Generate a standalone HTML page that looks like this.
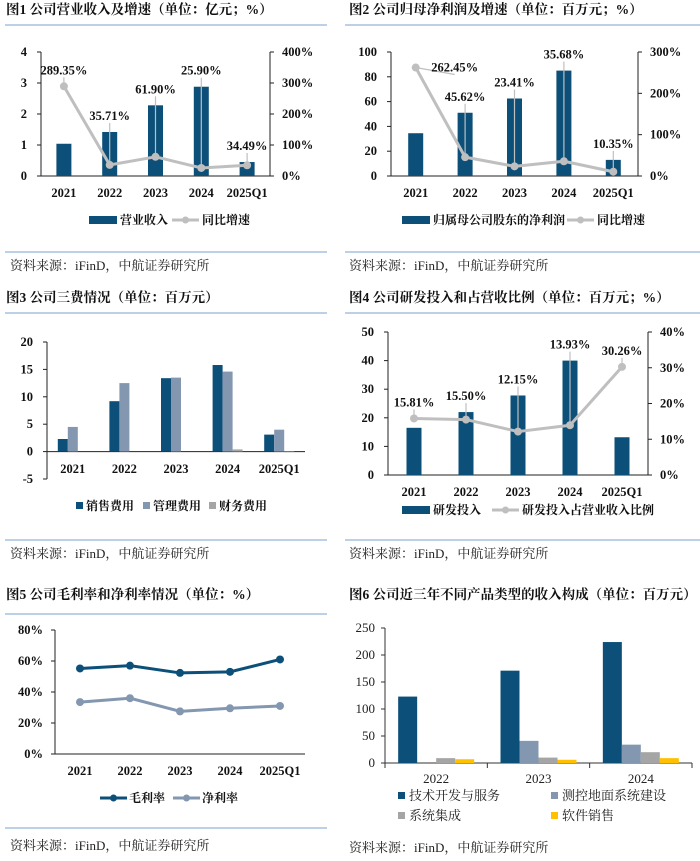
<!DOCTYPE html>
<html><head><meta charset="utf-8">
<style>
html,body{margin:0;padding:0;background:#fff;}
svg{display:block;font-family:"Liberation Serif","Noto Serif CJK SC",serif;}
.t{font-size:13.5px;font-weight:bold;fill:#111;}
.s{font-size:13px;fill:#222;}
.k{font-size:12.5px;font-weight:bold;fill:#111;}
.l{font-size:12.5px;font-weight:bold;fill:#111;}
.lg{font-size:12px;fill:#111;font-weight:bold;}
</style></head>
<body>
<svg id="root" width="700" height="861" viewBox="0 0 700 861">
<g>
<text class="t" x="6" y="14">图1 公司营业收入及增速（单位：亿元；%）</text>
<line x1="5" y1="25" x2="327" y2="25" stroke="#95b3d7" stroke-width="1.2"/>
<line x1="5" y1="252" x2="327" y2="252" stroke="#95b3d7" stroke-width="1.2"/>
<text class="s" x="10" y="270">资料来源：iFinD，中航证券研究所</text>

<text class="t" x="349" y="14">图2 公司归母净利润及增速（单位：百万元；%）</text>
<line x1="345" y1="25" x2="700" y2="25" stroke="#95b3d7" stroke-width="1.2"/>
<line x1="345" y1="252" x2="700" y2="252" stroke="#95b3d7" stroke-width="1.2"/>
<text class="s" x="349" y="270">资料来源：iFinD，中航证券研究所</text>

<text class="t" x="6" y="302">图3 公司三费情况（单位：百万元）</text>
<line x1="5" y1="313" x2="327" y2="313" stroke="#95b3d7" stroke-width="1.2"/>
<line x1="5" y1="540" x2="327" y2="540" stroke="#95b3d7" stroke-width="1.2"/>
<text class="s" x="10" y="558">资料来源：iFinD，中航证券研究所</text>

<text class="t" x="349" y="302">图4 公司研发投入和占营收比例（单位：百万元；%）</text>
<line x1="345" y1="313" x2="700" y2="313" stroke="#95b3d7" stroke-width="1.2"/>
<line x1="345" y1="540" x2="700" y2="540" stroke="#95b3d7" stroke-width="1.2"/>
<text class="s" x="349" y="558">资料来源：iFinD，中航证券研究所</text>

<text class="t" x="6" y="599">图5 公司毛利率和净利率情况（单位：%）</text>
<line x1="5" y1="614" x2="327" y2="614" stroke="#95b3d7" stroke-width="1.2"/>
<line x1="5" y1="828" x2="327" y2="828" stroke="#95b3d7" stroke-width="1.2"/>
<text class="s" x="10" y="850">资料来源：iFinD，中航证券研究所</text>

<text class="t" x="349" y="599">图6 公司近三年不同产品类型的收入构成（单位：百万元）</text>
<text class="s" x="349" y="852">资料来源：iFinD，中航证券研究所</text>
</g>
<g id="charts"></g>
</svg>
<script>
// ---------- data ----------
const cats5 = ['2021','2022','2023','2024','2025Q1'];
const revenue = [1.04, 1.42, 2.28, 2.88, 0.45];
const revenueGrowth = [289.35, 35.71, 61.90, 25.90, 34.49];
const revLeftTicks = [0,1,2,3,4];
const revRightTicks = [0,100,200,300,400];

const netProfit = [34.5, 51, 62.5, 85, 13];
const profitGrowth = [262.45, 45.62, 23.41, 35.68, 10.35];
const npLeftTicks = [0,20,40,60,80,100];
const npRightTicks = [0,100,200,300];

const salesExp = [2.3, 9.2, 13.4, 15.8, 3.1];
const mgmtExp = [4.5, 12.5, 13.5, 14.6, 4.0];
const finExp = [0, 0, 0, 0.4, -0.1];
const expTicks = [-5,0,5,10,15,20];

const rdSpend = [16.5, 22, 27.8, 40, 13.2];
const rdRatio = [15.81, 15.50, 12.15, 13.93, 30.26];
const rdLeftTicks = [0,10,20,30,40,50];
const rdRightTicks = [0,10,20,30,40];

const grossMargin = [55.2, 57, 52.3, 53, 61];
const netMargin = [33.5, 36, 27.5, 29.5, 31];
const marginTicks = [0,20,40,60,80];

const cats3 = ['2022','2023','2024'];
const techService = [123, 171, 224];
const groundSys = [0, 41, 34];
const sysIntegration = [9, 10, 20];
const softwareSales = [7, 6, 9];
const segTicks = [0,50,100,150,200,250];

// ---------- helpers ----------
const NS = 'http://www.w3.org/2000/svg';
const root = document.getElementById('charts');
function mk(tag, attrs, parent) {
  const e = document.createElementNS(NS, tag);
  for (const k in attrs) e.setAttribute(k, attrs[k]);
  (parent || root).appendChild(e);
  return e;
}
function txt(str, attrs, parent) {
  const e = mk('text', attrs, parent);
  e.textContent = str;
  return e;
}
const BLUE = '#0c5079', GREY = '#bfbfbf', SLATE = '#8497b0', MID = '#a5a5a5', GOLD = '#ffc000';

// ---------- combo chart (bars + line, dual axis) ----------
function combo(o) {
  const g = mk('g', {});
  
  
  const yL = v => o.yb - (v - 0) / o.lmax * (o.yb - o.yt);
  const yR = v => o.yb - v / o.rmax * (o.yb - o.yt);
  const bw = (o.x1 - o.x0) / o.cats.length;
  const xc = i => o.x0 + bw * (i + 0.5);
  const ax = mk('path', {d:`M${o.x0},${o.yt} V${o.yb} H${o.x1} V${o.yt}`, fill:'none', stroke:'#222', 'stroke-width':1}, g);
  
  
  o.lt.forEach(v => {
    mk('line', {x1:o.x0-4, x2:o.x0, y1:yL(v), y2:yL(v), stroke:'#222'}, g);
    const t = txt(String(v), {x:o.x0-14, y:yL(v)+4, 'text-anchor':'end', class:'k'}, g);
    
    
  });
  o.rt.forEach(v => {
    mk('line', {x1:o.x1, x2:o.x1+4, y1:yR(v), y2:yR(v), stroke:'#222'}, g);
    const t = txt(v + '%', {x:o.x1+12, y:yR(v)+4, class:'k'}, g);
    
    
  });
  o.cats.forEach((c, i) => {
    const t = txt(c, {x:xc(i), y:o.xl, 'text-anchor':'middle', class:'k'}, g);
    
    
  });
  o.bars.forEach((v, i) => {
    const r = mk('rect', {x:xc(i)-7.5, y:yL(v), width:15, height:o.yb-yL(v), fill:BLUE}, g);
    
    
  });
  const pts = o.line.map((v, i) => xc(i) + ',' + yR(v)).join(' ');
  const pl = mk('polyline', {points:pts, fill:'none', stroke:GREY, 'stroke-width':3, 'stroke-linejoin':'round'}, g);
  
  
  o.line.forEach((v, i) => {
    const c = mk('circle', {cx:xc(i), cy:yR(v), r:4, fill:GREY}, g);
    
    
    const top = Math.min(yL(o.bars[i]), yR(v));
    let ly = top - 12;
    let lx = xc(i);
    if (o.side && o.side[i]) { lx = xc(i) + o.side[i]; ly = yR(v) + 4; }
    const ll = mk('line', {x1:xc(i), y1:yR(v), x2:lx, y2:ly+3, stroke:GREY, 'stroke-width':1.2}, g);
    
    
    const t = txt(v.toFixed(2) + '%', {x:lx, y:ly, 'text-anchor':'middle', class:'l'}, g);
    
    
  });
  const sw = mk('rect', {x:o.lg[0], y:o.ly-4, width:28, height:8, fill:BLUE}, g);
  
  
  const t1 = txt(o.ln[0], {x:o.lg[0]+31, y:o.ly+4, class:'lg'}, g);
  
  
  mk('line', {x1:o.lg[1], x2:o.lg[1]+27, y1:o.ly, y2:o.ly, stroke:GREY, 'stroke-width':3}, g);
  mk('circle', {cx:o.lg[1]+13.5, cy:o.ly, r:3.5, fill:GREY}, g);
  const t2 = txt(o.ln[1], {x:o.lg[1]+30, y:o.ly+4, class:'lg'}, g);
  
  
}

combo({name:'fig1-revenue-chart', x0:41, x1:270, yt:52, yb:176, lmax:4, rmax:400,
  lt:revLeftTicks, rt:revRightTicks, cats:cats5, bars:revenue, line:revenueGrowth,
  xl:197, ly:220, lg:[89,172], ln:['营业收入','同比增速']});
combo({name:'fig2-net-profit-chart', x0:391, x1:638, yt:52, yb:176, lmax:100, rmax:300,
  lt:npLeftTicks, rt:npRightTicks, cats:cats5, bars:netProfit, line:profitGrowth,
  xl:197, ly:220, lg:[402,567], ln:['归属母公司股东的净利润','同比增速'], side:[39,0,0,0,0]});
combo({name:'fig4-rd-chart', x0:388, x1:648, yt:332, yb:475, lmax:50, rmax:40,
  lt:rdLeftTicks, rt:rdRightTicks, cats:cats5, bars:rdSpend, line:rdRatio,
  xl:496, ly:510, lg:[402,492], ln:['研发投入','研发投入占营业收入比例']});

// ---------- fig3 grouped bars ----------
(function(){
  const g = mk('g', {});
  
  
  const x0 = 47, x1 = 305, yt = 342, yb = 479, min = -5, max = 20;
  const y = v => yb - (v - min) / (max - min) * (yb - yt);
  const bw = (x1 - x0) / cats5.length;
  const xc = i => x0 + bw * (i + 0.5);
  mk('line', {x1:x0, x2:x0, y1:yt, y2:yb, stroke:'#222'}, g);
  const zl = mk('line', {x1:x0, x2:x1, y1:y(0), y2:y(0), stroke:'#222'}, g);
  
  
  expTicks.forEach(v => {
    mk('line', {x1:x0-4, x2:x0, y1:y(v), y2:y(v), stroke:'#222'}, g);
    const t = txt(String(v), {x:x0-14, y:y(v)+4, 'text-anchor':'end', class:'k'}, g);
    
    
  });
  cats5.forEach((c, i) => {
    const t = txt(c, {x:xc(i), y:473, 'text-anchor':'middle', class:'k'}, g);
    
    
  });
  const series = [[salesExp, BLUE], [mgmtExp, SLATE], [finExp, MID]];
  series.forEach((s, k) => {
    s[0].forEach((v, i) => {
      const top = Math.min(y(v), y(0)), h = Math.abs(y(v) - y(0));
      const r = mk('rect', {x:xc(i) - 15 + k*10, y:top, width:10, height:Math.max(h, 0.01), fill:s[1]}, g);
      
      
    });
  });
  const names = ['销售费用','管理费用','财务费用'], lx = [76,143,209];
  names.forEach((n, k) => {
    mk('rect', {x:lx[k], y:502, width:7, height:7, fill:series[k][1]}, g);
    const t = txt(n, {x:lx[k]+10, y:510, class:'lg'}, g);
    
    
  });
})();

// ---------- fig5 lines ----------
(function(){
  const g = mk('g', {});
  
  
  const x0 = 55, x1 = 305, yt = 630, yb = 754;
  const y = v => yb - v / 80 * (yb - yt);
  const bw = (x1 - x0) / cats5.length;
  const xc = i => x0 + bw * (i + 0.5);
  mk('path', {d:`M${x0},${yt} V${yb} H${x1}`, fill:'none', stroke:'#222'}, g);
  marginTicks.forEach(v => {
    mk('line', {x1:x0-4, x2:x0, y1:y(v), y2:y(v), stroke:'#222'}, g);
    const t = txt(v + '%', {x:x0-12, y:y(v)+4, 'text-anchor':'end', class:'k'}, g);
    
    
  });
  cats5.forEach((c, i) => {
    const t = txt(c, {x:xc(i), y:775, 'text-anchor':'middle', class:'k'}, g);
    
    
  });
  [[grossMargin, BLUE, 'gross-margin'], [netMargin, SLATE, 'net-margin']].forEach(s => {
    const pl = mk('polyline', {points:s[0].map((v, i) => xc(i) + ',' + y(v)).join(' '), fill:'none', stroke:s[1], 'stroke-width':3}, g);
    
    
    s[0].forEach((v, i) => {
      const c = mk('circle', {cx:xc(i), cy:y(v), r:4, fill:s[1]}, g);
      
      
    });
  });
  [[100, BLUE, '毛利率'], [173, SLATE, '净利率']].forEach(l => {
    mk('line', {x1:l[0], x2:l[0]+27, y1:798, y2:798, stroke:l[1], 'stroke-width':3}, g);
    mk('circle', {cx:l[0]+13.5, cy:798, r:3.5, fill:l[1]}, g);
    const t = txt(l[2], {x:l[0]+29, y:802, class:'lg'}, g);
    
    
  });
})();

// ---------- fig6 grouped bars ----------
(function(){
  const g = mk('g', {});
  
  
  const x0 = 385, x1 = 692, yt = 628, yb = 763;
  const y = v => yb - v / 250 * (yb - yt);
  const bw = (x1 - x0) / cats3.length;
  const xc = i => x0 + bw * (i + 0.5);
  mk('path', {d:`M${x0},${yt} V${yb} H${x1}`, fill:'none', stroke:'#333'}, g);
  for (let i = 0; i <= cats3.length; i++) mk('line', {x1:x0+bw*i, x2:x0+bw*i, y1:yb, y2:yb+5, stroke:'#333'}, g);
  segTicks.forEach(v => {
    mk('line', {x1:x0-4, x2:x0, y1:y(v), y2:y(v), stroke:'#333'}, g);
    const t = txt(String(v), {x:x0-10, y:y(v)+4, 'text-anchor':'end', class:'s', 'font-size':'12.5'}, g);
    
    
  });
  cats3.forEach((c, i) => {
    const t = txt(c, {x:xc(i), y:783, 'text-anchor':'middle', class:'s', 'font-size':'12.5'}, g);
    
    
  });
  const series = [[techService, BLUE, '技术开发与服务'], [groundSys, SLATE, '测控地面系统建设'], [sysIntegration, MID, '系统集成'], [softwareSales, GOLD, '软件销售']];
  series.forEach((s, k) => {
    s[0].forEach((v, i) => {
      const r = mk('rect', {x:xc(i) - 38 + k*19, y:y(v), width:19, height:yb - y(v), fill:s[1]}, g);
      
      
    });
  });
  const pos = [[398,796],[551,796],[398,816],[551,816]];
  series.forEach((s, k) => {
    mk('rect', {x:pos[k][0], y:pos[k][1]-4, width:7, height:7, fill:s[1]}, g);
    const t = txt(s[2], {x:pos[k][0]+11, y:pos[k][1]+4, class:'s', 'font-size':'12.5'}, g);
    
    
  });
})();
</script>
</body></html>
